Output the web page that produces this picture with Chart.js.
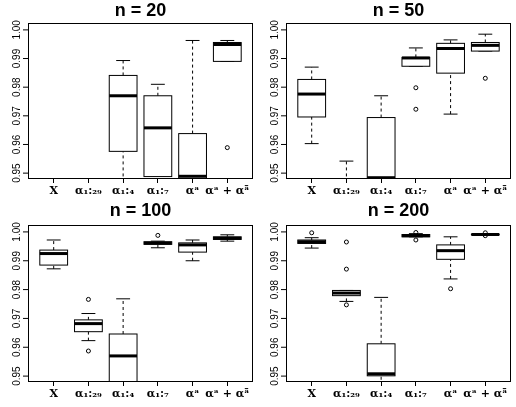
<!DOCTYPE html><html><head><meta charset="utf-8">
<script src="https://cdn.jsdelivr.net/npm/chart.js@4/dist/chart.umd.min.js"></script>
<style>body{margin:0;background:#fff}#g{display:grid;grid-template-columns:258px 258px;grid-template-rows:200px 207px}canvas{display:block}</style>
</head><body><div id="g"><div><canvas id="c0" width="258" height="200"></canvas></div><div><canvas id="c1" width="258" height="200"></canvas></div><div><canvas id="c2" width="258" height="207"></canvas></div><div><canvas id="c3" width="258" height="207"></canvas></div></div>
<script>
const categories = ["X","α₁:₂₉","α₁:₄","α₁:₇","αᵃ","αᵃ + αᵃ̄"];
const titles = ["n = 20","n = 50","n = 100","n = 200"];
const yTicks = [0.95,0.96,0.97,0.98,0.99,1.00];
// each box: [whiskerLow, q1, median, q3, whiskerHigh] (null = not shown)
const n20 = [null,null,[0.93,0.9576,0.9770,0.9841,0.9893],[0.93,0.9488,0.9658,0.9770,0.9810],[0.93,0.93,0.9489,0.9638,0.9963],[0.9890,0.9890,0.9949,0.9956,0.9963]];
const n20out = [[],[],[],[],[],[0.9589]];
const n50 = [[0.9603,0.9696,0.9776,0.9827,0.9870],[0.93,0.93,0.93,0.93,0.9542],[0.93,0.93,0.9484,0.9694,0.9770],[0.9873,0.9873,0.9902,0.9904,0.9937],[0.9706,0.9849,0.9935,0.9953,0.9965],[0.9926,0.9926,0.9946,0.9956,0.9985]];
const n50out = [[],[],[],[0.9798,0.9723],[],[0.9831]];
const n100 = [[0.9872,0.9885,0.9925,0.9937,0.9972],[0.9623,0.9654,0.9682,0.9695,0.9717],[0.93,0.93,0.9570,0.9646,0.9768],[0.9945,0.9957,0.9961,0.9966,0.9968],[0.9900,0.9930,0.9955,0.9962,0.9972],[0.9968,0.9974,0.9978,0.9983,0.9990]];
const n100out = [[],[0.9766,0.9587],[],[0.9988],[],[]];
const n200 = [[0.9944,0.9960,0.9966,0.9972,0.9980],[0.9759,0.9779,0.9788,0.9797,0.9797],[0.93,0.9501,0.9508,0.9612,0.9773],[0.9983,0.9983,0.9987,0.9991,0.9994],[0.9837,0.9905,0.9935,0.9955,0.9983],[0.9990,0.9990,0.9991,0.9992,0.9994]];
const n200out = [[0.9997],[0.9965,0.9871,0.9747],[],[0.9998,0.9972],[0.9803],[0.9997,0.9987]];
const allBoxes=[n20,n50,n100,n200], allOut=[n20out,n50out,n100out,n200out];

const boxPlugin={id:'box',afterDatasetsDraw(ch,a,o){
 const ctx=ch.ctx,x=ch.scales.x,y=ch.scales.y,ca=ch.chartArea,boxes=o.boxes;
 ctx.save();ctx.beginPath();ctx.rect(ca.left,ca.top,ca.right-ca.left,ca.bottom-ca.top);ctx.clip();
 boxes.forEach((b,i)=>{if(!b)return;const cx=x.getPixelForValue(i+1),hw=(x.getPixelForValue(1.4)-x.getPixelForValue(1)),ww=hw/2;
  const p=b.map(v=>y.getPixelForValue(v));ctx.strokeStyle='#000';ctx.lineWidth=1;
  ctx.setLineDash([3,3]);ctx.beginPath();ctx.moveTo(cx,p[0]);ctx.lineTo(cx,p[1]);ctx.moveTo(cx,p[3]);ctx.lineTo(cx,p[4]);ctx.stroke();ctx.setLineDash([]);
  ctx.beginPath();ctx.moveTo(cx-ww,p[0]);ctx.lineTo(cx+ww,p[0]);ctx.moveTo(cx-ww,p[4]);ctx.lineTo(cx+ww,p[4]);ctx.stroke();
  ctx.fillStyle='#fff';ctx.fillRect(cx-hw,p[3],2*hw,p[1]-p[3]);ctx.strokeRect(cx-hw,p[3],2*hw,p[1]-p[3]);
  ctx.lineWidth=3;ctx.beginPath();ctx.moveTo(cx-hw,p[2]);ctx.lineTo(cx+hw,p[2]);ctx.stroke();});
 ctx.restore();ctx.save();
 ctx.strokeStyle='#000';ctx.lineWidth=1;ctx.strokeRect(ca.left+0.5,ca.top+0.5,ca.right-ca.left-1,ca.bottom-ca.top);
 ctx.fillStyle='#000';ctx.font='10px "Liberation Sans", Arial';ctx.textAlign='center';ctx.textBaseline='bottom';
 yTicks.forEach(t=>{const py=y.getPixelForValue(t);ctx.beginPath();ctx.moveTo(ca.left,py);ctx.lineTo(ca.left-5,py);ctx.stroke();
  ctx.save();ctx.translate(ca.left-6,py);ctx.rotate(-Math.PI/2);ctx.fillText(t.toFixed(2),0,0);ctx.restore();});
 ctx.font='bold 18px "Liberation Sans", Arial';ctx.textBaseline='middle';ctx.fillText(o.title,(ca.left+ca.right)/2,11);
 ctx.restore();}};

allBoxes.forEach((boxes,k)=>{
 const pts=[];allOut[k].forEach((a,i)=>a.forEach(v=>pts.push({x:i+1,y:v})));
 const el=document.getElementById('c'+k);
 new Chart(el,{type:'scatter',data:{datasets:[{data:pts,pointRadius:2,pointBorderColor:'#000',pointBackgroundColor:'#fff',pointBorderWidth:1}]},
 plugins:[boxPlugin],
 options:{responsive:false,animation:false,devicePixelRatio:1,
  layout:{padding:{top:k<2?23:25,right:1,left:0,bottom:0}},
  plugins:{legend:{display:false},tooltip:{enabled:false},box:{boxes,title:titles[k]}},
  scales:{
   x:{type:'linear',min:0.26,max:6.74,afterBuildTicks:s=>{s.ticks=categories.map((c,i)=>({value:i+1}));},
      ticks:{callback:(v)=>categories[v-1],font:{family:'"DejaVu Serif"',size:11,weight:'bold'},color:'#000',maxRotation:0,autoSkip:false,padding:2},
      grid:{drawOnChartArea:false,tickLength:5,color:'#000'},border:{display:false},afterFit:s=>{s.height=k<2?22:26;}},
   y:{min:0.9483,max:1.0024,ticks:{display:false},grid:{display:false},border:{display:false},afterFit:s=>{s.width=28;}}}}});
});
</script></body></html>
